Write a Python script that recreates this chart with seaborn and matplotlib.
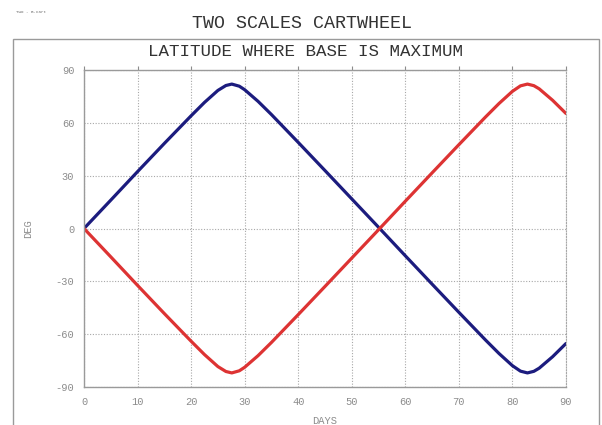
import matplotlib
matplotlib.use("Agg")
import matplotlib.pyplot as plt
import seaborn as sns
import pandas as pd
from matplotlib.patches import Rectangle

# ---- data ----
days = [0, 5, 10, 15, 20, 22.5, 25, 26.5, 27.6, 29, 30, 32.5, 35, 40, 45, 50,
        55, 60, 65, 70, 75, 77.5, 80, 81.5, 82.8, 84, 85, 87.5, 90]
blue_deg = [0, 16.1, 32.3, 48.3, 64.0, 71.6, 78.4, 81.2, 82.0, 80.8, 78.8, 72.2,
            64.7, 48.9, 32.9, 16.8, 0.7, -15.5, -31.6, -47.6, -63.4, -71.0,
            -77.9, -81.0, -82.0, -81.1, -79.3, -72.8, -65.3]
red_deg = [0, -16.1, -32.3, -48.3, -64.0, -71.6, -78.4, -81.2, -82.0, -80.8, -78.8,
           -72.2, -64.7, -48.9, -32.9, -16.8, -0.7, 15.5, 31.6, 47.6, 63.4, 71.0,
           77.9, 81.0, 82.0, 81.1, 79.3, 72.8, 65.3]
x_ticks = [0, 10, 20, 30, 40, 50, 60, 70, 80, 90]
y_ticks = [-90, -60, -30, 0, 30, 60, 90]

title = "TWO SCALES CARTWHEEL"
subtitle = "LATITUDE WHERE BASE IS MAXIMUM"
x_label = "DAYS"
y_label = "DEG"
corner_note = "TWO - B.cart"

df = pd.concat([
    pd.DataFrame({"day": days, "deg": blue_deg, "series": "blue"}),
    pd.DataFrame({"day": days, "deg": red_deg, "series": "red"}),
])

sns.set_style("white")
mono = ["Liberation Mono", "DejaVu Sans Mono"]
grey = "#8c8c8c"

fig = plt.figure(figsize=(6.02, 4.25), dpi=100)
ax = fig.add_axes([84 / 602, 1 - 387 / 425, (566 - 84) / 602, (387 - 70) / 425])

sns.lineplot(data=df, x="day", y="deg", hue="series",
             palette={"blue": "#1c1c7e", "red": "#dd3333"},
             linewidth=2.3, legend=False, ax=ax, sort=False)

ax.set_xlim(0, 90)
ax.set_ylim(-90, 90)
ax.set_xticks(x_ticks)
ax.set_yticks(y_ticks)
ax.set_xticklabels([str(v) for v in x_ticks], family=mono, color=grey, fontsize=7.5)
ax.set_yticklabels([str(v) for v in y_ticks], family=mono, color=grey, fontsize=7.5)
ax.grid(True, color="#a8a8a8", linestyle=(0, (1, 1.5)), linewidth=0.8)
ax.set_axisbelow(True)
ax.tick_params(axis="both", which="both", direction="out", length=3, width=0.8,
               color=grey, pad=4, top=True, right=False)
for side in ["left", "bottom", "top"]:
    ax.spines[side].set_color("#9a9a9a")
    ax.spines[side].set_linewidth(1.0)
ax.spines["right"].set_color("#a8a8a8")
ax.spines["right"].set_linestyle((0, (1, 1.5)))
ax.spines["right"].set_linewidth(0.8)

ax.set_xlabel(x_label, family=mono, color=grey, fontsize=7.5, labelpad=7)
ax.set_ylabel(y_label, family=mono, color=grey, fontsize=7.5, labelpad=16)

# outer frame
fig.patches.append(Rectangle((13 / 602, -0.05), (599 - 13) / 602, 1 - 39 / 425 + 0.05,
                             transform=fig.transFigure, fill=False,
                             edgecolor="#9a9a9a", linewidth=1.0))

fig.text(302 / 602, 1 - 23 / 425, title, family=mono, fontsize=13.2,
         color="#333333", ha="center", va="center")
fig.text(305 / 602, 1 - 51 / 425, subtitle, family=mono, fontsize=12.6,
         color="#333333", ha="center", va="center")
fig.text(16 / 602, 1 - 12 / 425, corner_note, family=mono, fontsize=3,
         color="#666666", ha="left", va="center")

fig.savefig("out.png", dpi=100)
